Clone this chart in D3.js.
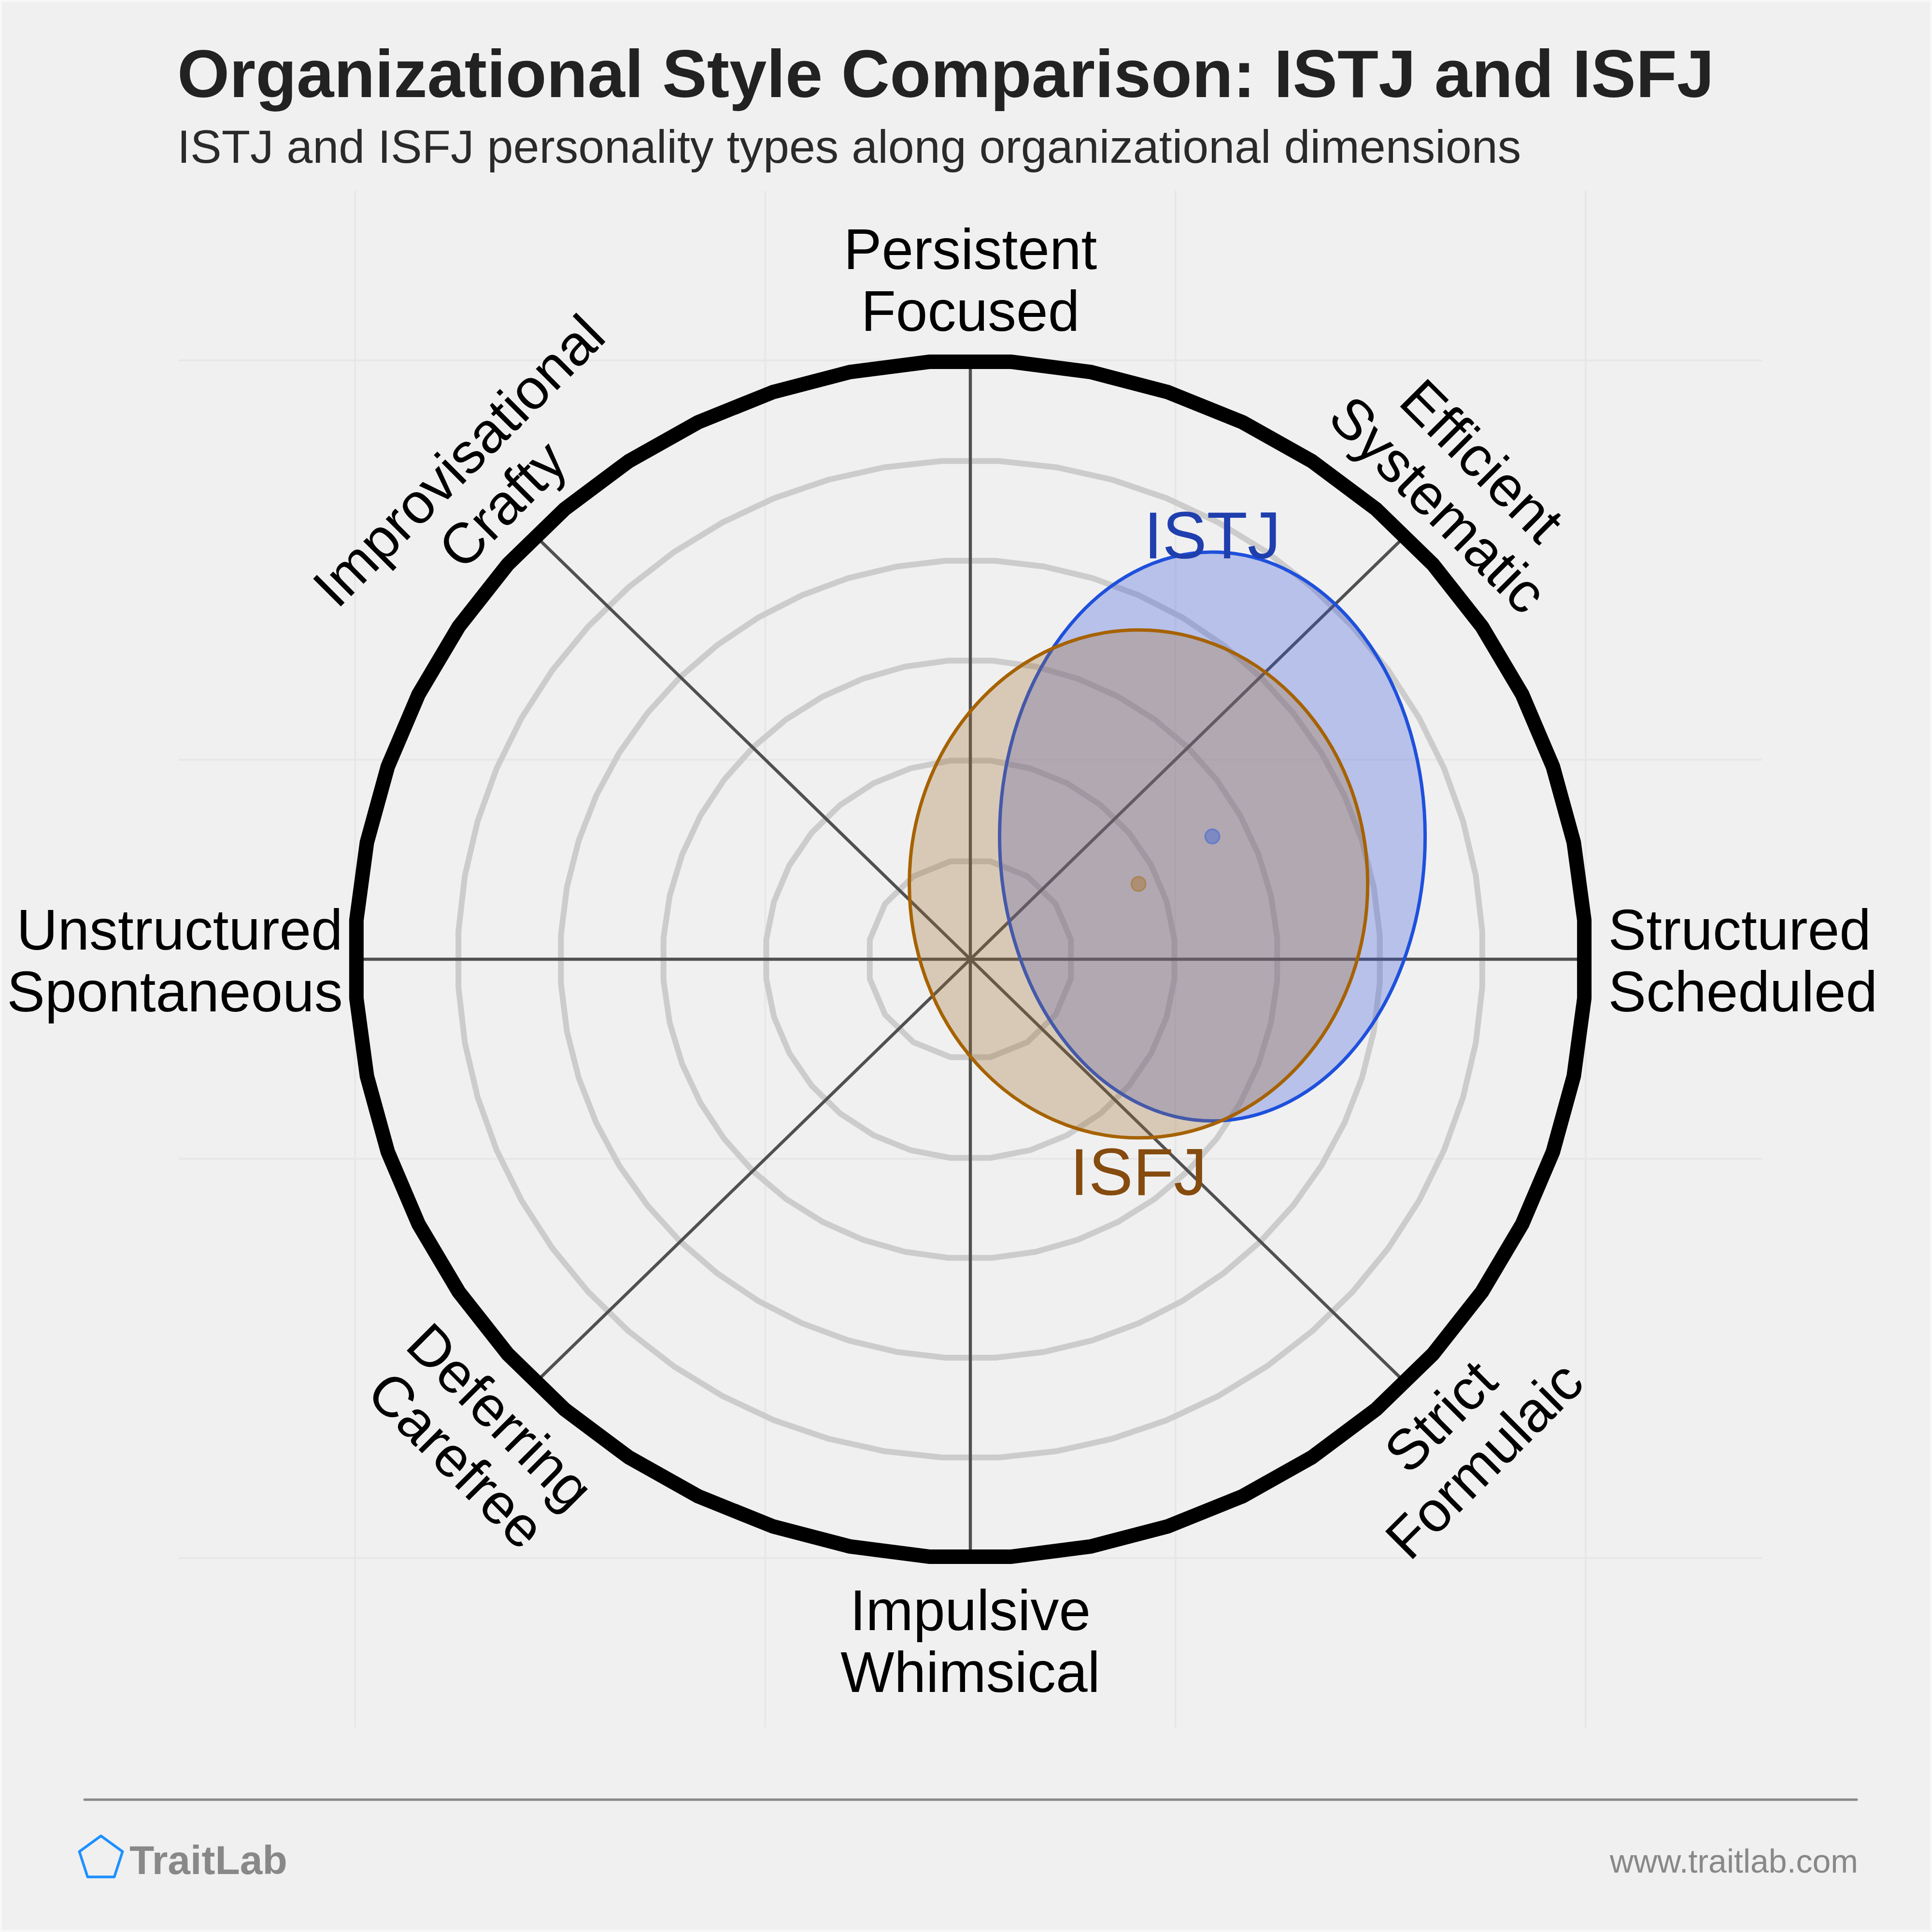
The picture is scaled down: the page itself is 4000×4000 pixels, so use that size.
<!DOCTYPE html>
<html>
<head>
<meta charset="utf-8">
<script src="https://cdn.jsdelivr.net/npm/d3@7"></script>
<style>
  html, body { margin: 0; padding: 0; background: #f0f0f0; }
  svg { display: block; }
  text { font-family: "Liberation Sans", Arial, Helvetica, sans-serif; }
</style>
</head>
<body>
<svg id="chart" width="4000" height="4000"></svg>
<script>
// ---------------- data ----------------
const titleText = "Organizational Style Comparison: ISTJ and ISFJ";
const subtitleText = "ISTJ and ISFJ personality types along organizational dimensions";
const axisAngles = [0, 45, 90, 135, 180, 225, 270, 315];
const axisLabels = [
  ["Structured", "Scheduled"],
  ["Efficient", "Systematic"],
  ["Persistent", "Focused"],
  ["Improvisational", "Crafty"],
  ["Unstructured", "Spontaneous"],
  ["Deferring", "Carefree"],
  ["Impulsive", "Whimsical"],
  ["Strict", "Formulaic"]
];
const ringLevels = [1, 2, 3, 4, 5, 6];
const gridTicks = [-6, -2, 2, 6];
const typeNames = ["ISTJ", "ISFJ"];
const centerX = [2.36, 1.64];
const centerY = [1.23, 0.755];
const radiusX = [2.075, 2.235];
const radiusY = [2.85, 2.545];
const brandText = "TraitLab";
const siteText = "www.traitlab.com";

// ---------------- styles ----------------
const strokeColors = ["#1e50dc", "#a66200"];
const fillColors = ["rgb(57,87,217)", "rgb(163,113,53)"];
const labelColors = ["#1f3fae", "#854b0f"];

// ---------------- drawing ----------------
const svg = d3.select("#chart");
const W = 4000, H = 4000;

svg.append("rect").attr("x", 0).attr("y", 0).attr("width", W).attr("height", H).attr("fill", "#f8f8f8");
svg.append("rect").attr("x", 4).attr("y", 4).attr("width", W - 8).attr("height", H - 8).attr("fill", "#f0f0f0");

const x = d3.scaleLinear().domain([-7.72, 7.72]).range([370, 3648]);
const y = d3.scaleLinear().domain([-7.7, 7.7]).range([3577, 395]);

// faint grid
const grid = svg.append("g");
grid.selectAll("line.gx").data(gridTicks).join("line")
  .attr("x1", d => x(d)).attr("x2", d => x(d))
  .attr("y1", y(7.7)).attr("y2", y(-7.7))
  .attr("stroke", "#e7e7e7").attr("stroke-width", 4);
grid.selectAll("line.gy").data(gridTicks).join("line")
  .attr("y1", d => y(d)).attr("y2", d => y(d))
  .attr("x1", x(-7.72)).attr("x2", x(7.72))
  .attr("stroke", "#e7e7e7").attr("stroke-width", 4);

// rings (faceted like the reference)
const ringSegments = {1: 16, 2: 32, 3: 44, 4: 52, 5: 56, 6: 48};
const ringLine = d3.line().curve(d3.curveLinearClosed);
function ringPts(r) {
  const n = ringSegments[r];
  return d3.range(n).map(k => {
    const a = Math.PI / 2 + Math.PI / n + 2 * Math.PI * k / n;
    return [x(r * Math.cos(a)), y(r * Math.sin(a))];
  });
}
svg.append("g").selectAll("path").data(ringLevels.filter(r => r < 6)).join("path")
  .attr("d", r => ringLine(ringPts(r)))
  .attr("fill", "none").attr("stroke", "#cccccc").attr("stroke-width", 12)
  .attr("stroke-linejoin", "round");

// axes
svg.append("g").selectAll("line").data(axisAngles.filter(a => a < 180)).join("line")
  .attr("x1", a => x(6 * Math.cos(a * Math.PI / 180)))
  .attr("y1", a => y(6 * Math.sin(a * Math.PI / 180)))
  .attr("x2", a => x(-6 * Math.cos(a * Math.PI / 180)))
  .attr("y2", a => y(-6 * Math.sin(a * Math.PI / 180)))
  .attr("stroke", "#505050").attr("stroke-width", 6.5);

// outer ring
svg.append("path").attr("d", ringLine(ringPts(6)))
  .attr("fill", "none").attr("stroke", "#000").attr("stroke-width", 30)
  .attr("stroke-linejoin", "round");

// type ellipses
const idx = d3.range(typeNames.length);
const eg = svg.append("g");
idx.forEach(i => {
  eg.append("ellipse")
    .attr("cx", x(centerX[i])).attr("cy", y(centerY[i]))
    .attr("rx", x(radiusX[i]) - x(0)).attr("ry", y(0) - y(radiusY[i]))
    .attr("fill", fillColors[i]).attr("fill-opacity", 0.3)
    .attr("stroke", strokeColors[i]).attr("stroke-width", 7);
});
idx.forEach(i => {
  eg.append("circle")
    .attr("cx", x(centerX[i])).attr("cy", y(centerY[i])).attr("r", 15)
    .attr("fill", strokeColors[i]).attr("fill-opacity", 0.35)
    .attr("stroke", strokeColors[i]).attr("stroke-opacity", 0.4).attr("stroke-width", 3);
});
// type labels
svg.append("text").text(typeNames[0])
  .attr("x", x(centerX[0])).attr("y", y(centerY[0] + radiusY[0]) + 13)
  .attr("text-anchor", "middle").attr("font-size", 138).attr("fill", labelColors[0]);
svg.append("text").text(typeNames[1])
  .attr("x", x(centerX[1])).attr("y", y(centerY[1] - radiusY[1]) + 118)
  .attr("text-anchor", "middle").attr("font-size", 138).attr("fill", labelColors[1]);

// axis labels
const FS = 118, LH = 128, BL = 44;
const lg = svg.append("g");
axisAngles.forEach((deg, i) => {
  const a = deg * Math.PI / 180;
  const lines = axisLabels[i];
  let px, py, anchor = "middle", rot = 0;
  if (deg === 0) { px = x(6.22); py = y(0); anchor = "start"; }
  else if (deg === 180) { px = x(-6.12); py = y(0); anchor = "end"; }
  else if (deg === 90 || deg === 270) { px = x(0); py = y(6.82 * Math.sin(a)); }
  else {
    px = x(6.77 * Math.cos(a)); py = y(6.77 * Math.sin(a));
    rot = 90 - (deg % 180);
  }
  const g = lg.append("g").attr("transform", `translate(${px},${py}) rotate(${rot})`);
  lines.forEach((t, j) => {
    g.append("text").text(t)
      .attr("x", 0)
      .attr("y", (j - (lines.length - 1) / 2) * LH + BL)
      .attr("text-anchor", anchor)
      .attr("font-size", FS).attr("fill", "#000");
  });
});

// title
svg.append("text").text(titleText)
  .attr("x", 367).attr("y", 201).attr("font-size", 139).attr("font-weight", "bold").attr("fill", "#222");
svg.append("text").text(subtitleText)
  .attr("x", 367).attr("y", 337).attr("font-size", 97).attr("fill", "#2a2a2a");

// footer
svg.append("line").attr("x1", 175).attr("x2", 3844).attr("y1", 3726).attr("y2", 3726)
  .attr("stroke", "#888").attr("stroke-width", 5).attr("stroke-linecap", "round");
const pent = d3.range(5).map(k => {
  const a = -Math.PI / 2 + 2 * Math.PI * k / 5;
  return [209 + 47 * Math.cos(a), 3848 + 47 * Math.sin(a)];
});
svg.append("path").attr("d", d3.line().curve(d3.curveLinearClosed)(pent))
  .attr("fill", "none").attr("stroke", "#1e90ff").attr("stroke-width", 5.5).attr("stroke-linejoin", "round");
svg.append("text").text(brandText)
  .attr("x", 268).attr("y", 3880).attr("font-size", 84).attr("font-weight", "bold").attr("fill", "#888");
svg.append("text").text(siteText)
  .attr("x", 3847).attr("y", 3877).attr("text-anchor", "end").attr("font-size", 68).attr("fill", "#888");
</script>
</body>
</html>
